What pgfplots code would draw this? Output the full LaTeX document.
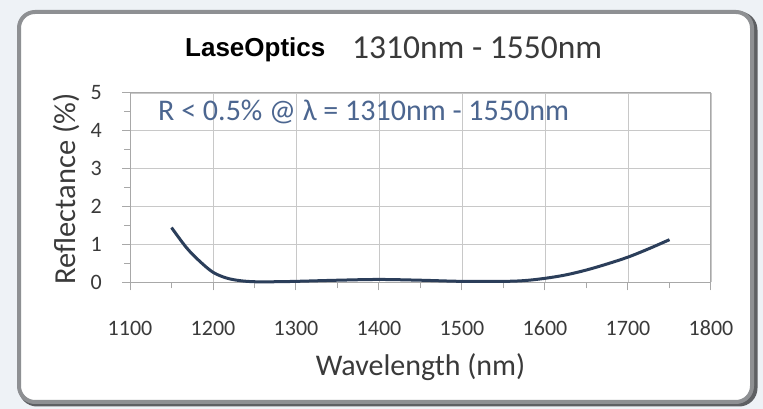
\documentclass[border=0pt]{standalone}
\usepackage{pgfplots}
\pgfplotsset{compat=1.18}
\usepackage{fontspec}
\setmainfont{Carlito}
\newfontfamily\arialfont{Liberation Sans}
\definecolor{bgc}{HTML}{EEF2F6}
\definecolor{framec}{HTML}{8E9093}
\definecolor{shadowc}{HTML}{5E6063}
\definecolor{curvec}{HTML}{2B3E5A}
\definecolor{annc}{HTML}{4C6690}
\definecolor{txtc}{HTML}{3A3A3A}
\definecolor{gridc}{HTML}{C8C8C8}
\definecolor{axc}{HTML}{A8A8A8}
\begin{document}
\begin{tikzpicture}[x=1pt,y=1pt]
\useasboundingbox (0,0) rectangle (763,409);
\fill[bgc] (0,0) rectangle (763,409);
% frame shadow and frame
\draw[shadowc, line width=5pt, rounded corners=16pt] (21,5) rectangle (755,395);
\draw[framec, line width=4pt, rounded corners=16pt, fill=white] (19,7) rectangle (752,397);
\begin{axis}[
  at={(130pt,126.5pt)}, anchor=south west,
  scale only axis, width=581pt, height=189.5pt,
  xmin=1100, xmax=1800, ymin=0, ymax=5,
  xtick={1100,1200,...,1800}, ytick={0,1,...,5},
  minor xtick={1150,1250,...,1750}, minor ytick={0.5,1.5,...,4.5},
  xtick pos=bottom, ytick pos=left,
  grid=major,
  major grid style={gridc, line width=0.9pt},
  axis line style={axc, line width=1pt},
  tick style={axc, line width=1pt},
  major tick length=8pt, minor tick length=6pt,
  tick align=outside,
  minor tick style={axc},
  x tick label style={font=\fontsize{22}{22}\selectfont, text=txtc, anchor=center, inner sep=0pt, yshift=-37.5pt},
  y tick label style={font=\fontsize{22}{22}\selectfont, text=txtc, anchor=east, inner sep=0pt, xshift=-20pt},
  xticklabel={\pgfmathprintnumber[1000 sep={}]{\tick}},
  /pgf/number format/assume math mode=true,
  /pgf/number format/1000 sep={},
  clip=false,
]
\addplot[curvec, line width=3pt, smooth, tension=0.55] coordinates {
(1150,1.45) (1168,0.92) (1184,0.56) (1200,0.27) (1216,0.12) (1232,0.05)
(1250,0.02) (1275,0.02) (1300,0.03) (1350,0.06) (1400,0.08) (1450,0.06)
(1500,0.03) (1550,0.03) (1575,0.05) (1600,0.11) (1625,0.20) (1650,0.33)
(1675,0.49) (1700,0.67) (1725,0.89) (1750,1.13)
};
\end{axis}
% texts
\node[anchor=west, inner sep=0pt, font=\arialfont\bfseries\fontsize{26}{26}\selectfont] at (185,359) {LaseOptics};
\node[anchor=west, inner sep=0pt, text=txtc, font=\fontsize{33.5}{33.5}\selectfont] at (352,361) {1310nm - 1550nm};
\node[anchor=west, inner sep=0pt, text=annc, font=\fontsize{30}{30}\selectfont] at (158,297) {R < 0.5\% @ λ = 1310nm - 1550nm};
\node[inner sep=0pt, text=txtc, font=\fontsize{30}{30}\selectfont] at (420.5,42) {Wavelength (nm)};
\node[inner sep=0pt, text=txtc, rotate=90, font=\fontsize{30.5}{30.5}\selectfont] at (66,220) {Reflectance (\%)};
\end{tikzpicture}
\end{document}
